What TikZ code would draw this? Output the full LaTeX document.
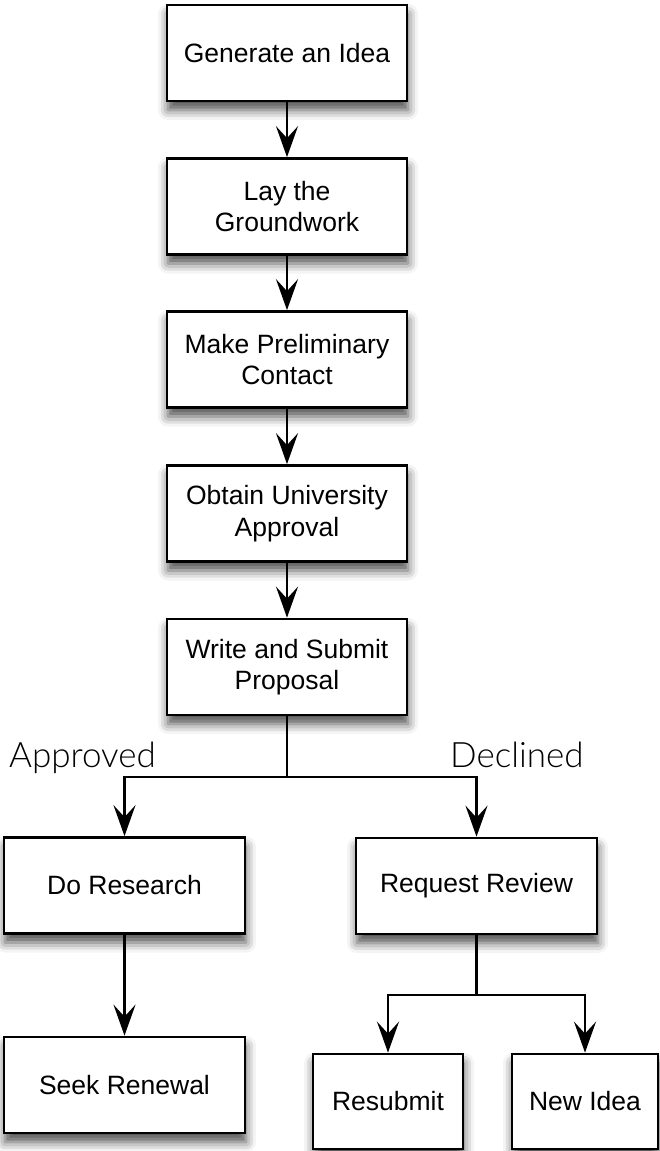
\documentclass[tikz,border=0pt]{standalone}
\usepackage{fontspec}
\setmainfont{Liberation Sans}
\newfontfamily\labelfont{Lato}[UprightFont=* Light]
\usetikzlibrary{arrows.meta,shadows.blur}
\begin{document}
\begin{tikzpicture}[x=1pt,y=-1pt,
  box/.style={draw, line width=2.7pt, fill=white, minimum width=240pt, minimum height=96pt,
    align=center, inner sep=0pt, font=\fontsize{26.5}{31.7}\selectfont,
    blur shadow={shadow xshift=1pt, shadow yshift=-9pt, shadow blur radius=10pt, shadow opacity=70}},
  conn/.style={line width=2.7pt},
  arr/.style={conn, -{Stealth[length=31pt,width=22pt,inset=12pt]}},
  lbl/.style={font=\labelfont\fontsize{35}{40}\selectfont, anchor=base west, inner sep=0pt}]
\useasboundingbox (0,0) rectangle (659,1151);
\node[box] (b1) at (287,53) {Generate an Idea};
\node[box] (b2) at (287,206.5) {Lay the\\Groundwork};
\node[box] (b3) at (287,359.5) {Make Preliminary\\Contact};
\node[box] (b4) at (287,513.5) {Obtain University\\Approval};
\node[box] (b5) at (287,667) {Write and Submit\\Proposal};
\node[box, minimum width=241pt] (dr) at (124.5,885.5) {Do Research};
\node[box, minimum width=241pt] (rr) at (476.5,886) {Request Review};
\node[box, minimum width=241pt] (sr) at (124.5,1085) {Seek Renewal};
\node[box, minimum width=150pt, minimum height=95pt] (rs) at (388,1101.5) {Resubmit};
\node[box, minimum width=146pt, minimum height=95pt] (ni) at (585,1101.5) {New Idea};
\node[lbl] (ap) at (9,767) {Approved};
\node[lbl] (dc) at (450,767) {Declined};
\coordinate (j1) at (287,777);
\coordinate (j2) at (476.5,995);
\draw[arr] (b1) -- (b2);
\draw[arr] (b2) -- (b3);
\draw[arr] (b3) -- (b4);
\draw[arr] (b4) -- (b5);
\draw[conn] (b5) -- (j1);
\draw[arr] (j1) -| (dr);
\draw[arr] (j1) -| (rr);
\draw[arr] (dr) -- (sr);
\draw[conn] (rr) -- (j2);
\draw[arr] (j2) -| (rs);
\draw[arr] (j2) -| (ni);
\end{tikzpicture}
\end{document}
